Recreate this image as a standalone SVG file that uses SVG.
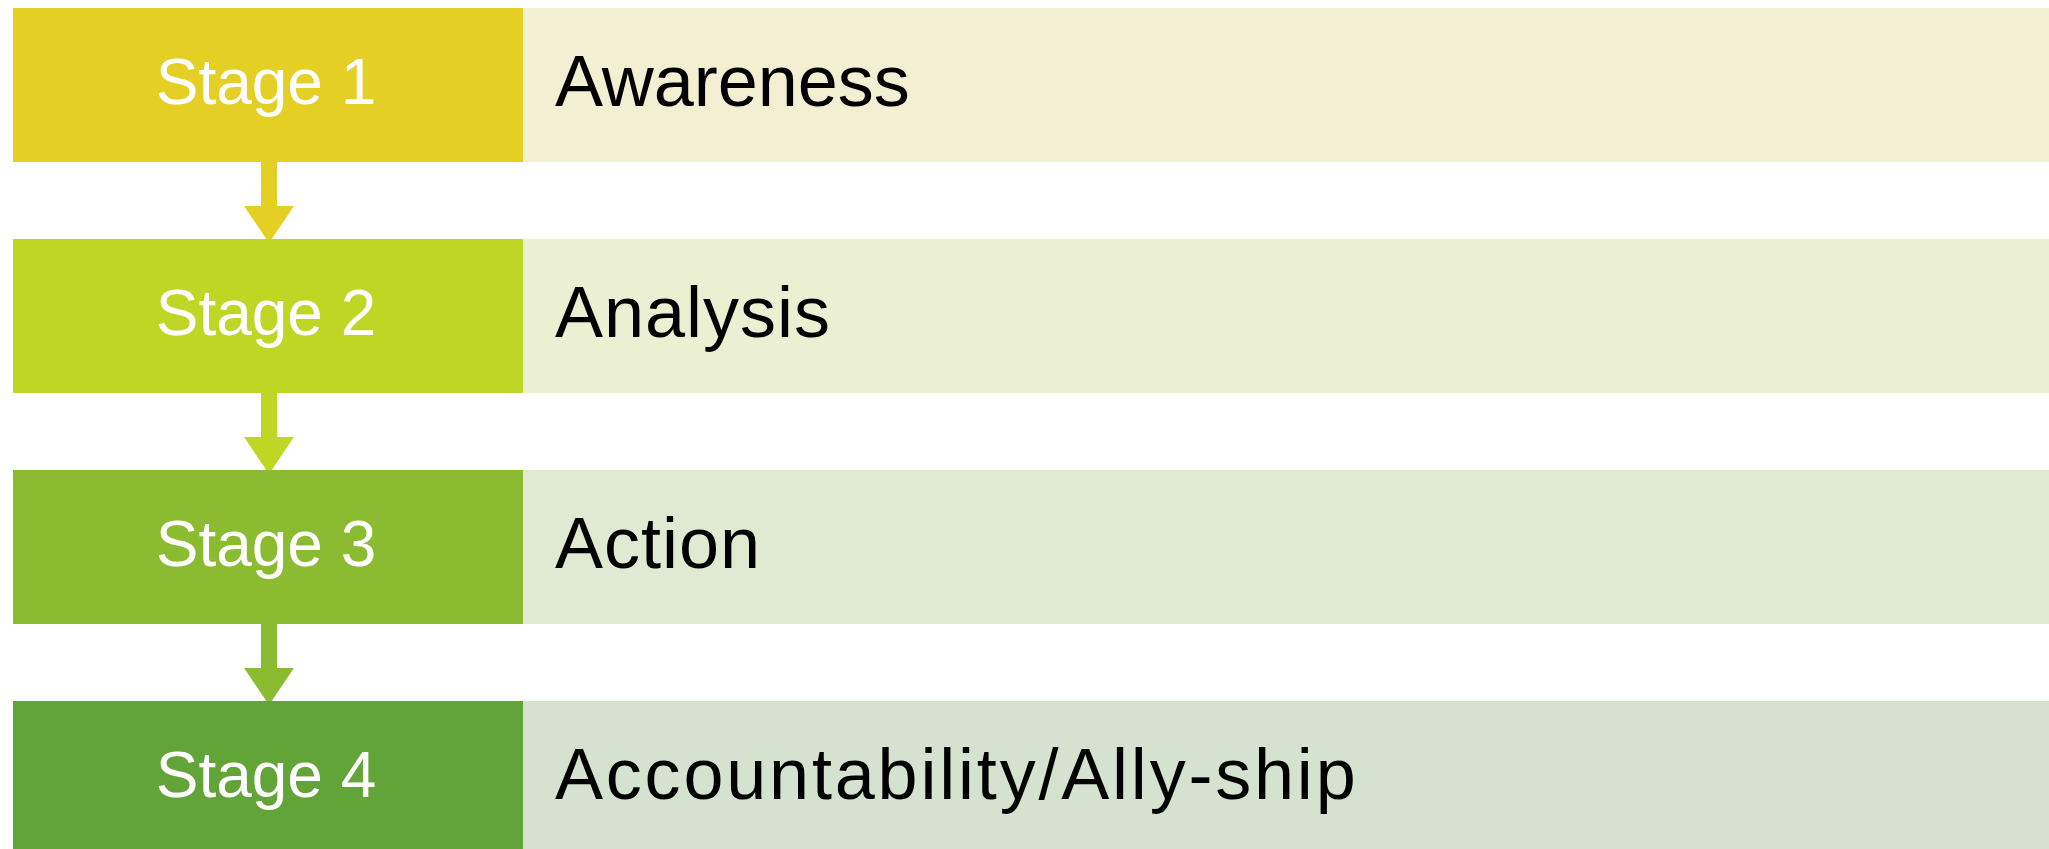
<svg xmlns="http://www.w3.org/2000/svg" width="2049" height="849" viewBox="0 0 2049 849">
<style>
.stage{font-family:"Liberation Sans",Arial,sans-serif;font-size:64px;fill:#ffffff;text-anchor:middle}
.label{font-family:"Liberation Sans",Arial,sans-serif;font-size:72px;fill:#000000}
</style>
<rect width="2049" height="849" fill="#ffffff"/>
<g id="connectors">
<path d="M261,162 V206 H244 L269,243 L294,206 H277 V162 Z" fill="#E4D024"/>
<path d="M261,393 V437 H244 L269,474 L294,437 H277 V393 Z" fill="#BFD724"/>
<path d="M261,624 V668 H244 L269,705 L294,668 H277 V624 Z" fill="#8BBB30"/>
</g>
<g id="row1">
<rect x="523" y="8" width="1526" height="154" fill="#F3EFD2"/>
<rect x="13" y="8" width="510" height="154" fill="#E4D024"/>
<text class="stage" x="266" y="104">Stage 1</text>
<text class="label" x="555" y="106" letter-spacing="0">Awareness</text>
</g>
<g id="row2">
<rect x="523" y="239" width="1526" height="154" fill="#ECF0D2"/>
<rect x="13" y="239" width="510" height="154" fill="#BFD724"/>
<text class="stage" x="266" y="335">Stage 2</text>
<text class="label" x="555" y="337" letter-spacing="1">Analysis</text>
</g>
<g id="row3">
<rect x="523" y="470" width="1526" height="154" fill="#E0EAD2"/>
<rect x="13" y="470" width="510" height="154" fill="#8BBB30"/>
<text class="stage" x="266" y="566">Stage 3</text>
<text class="label" x="555" y="568" letter-spacing="1">Action</text>
</g>
<g id="row4">
<rect x="523" y="701" width="1526" height="154" fill="#D6E2D0"/>
<rect x="13" y="701" width="510" height="154" fill="#62A438"/>
<text class="stage" x="266" y="797">Stage 4</text>
<text class="label" x="555" y="799" letter-spacing="2.8">Accountability/Ally-ship</text>
</g>
</svg>
